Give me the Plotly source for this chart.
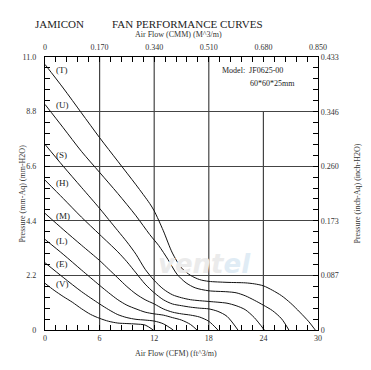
import plotly.graph_objects as go

# ---- data (CFM, mm-H2O) ----
curve_names = ["T", "U", "S", "H", "M", "L", "E", "V"]

T_x = [0, 2, 4, 6, 8, 10, 11.5, 12, 13, 14, 15, 16, 17, 18, 20, 22, 23, 24, 25, 26, 27, 28, 29, 29.7]
T_y = [10.7, 9.75, 8.75, 7.75, 6.8, 5.85, 5.1, 4.8, 4.0, 3.1, 2.5, 2.2, 2.03, 1.96, 1.92, 1.9, 1.86, 1.78, 1.6, 1.38, 1.08, 0.72, 0.33, 0]

U_x = [0, 2, 4, 6, 8, 10, 11.5, 12.5, 13.5, 14.5, 15.5, 16.5, 18, 20, 21, 22, 23, 24, 25, 26, 26.8]
U_y = [9.09, 8.15, 7.2, 6.35, 5.5, 4.6, 3.85, 3.4, 2.85, 2.25, 1.9, 1.7, 1.58, 1.54, 1.5, 1.38, 1.2, 1.0, 0.78, 0.45, 0]

S_x = [0, 2, 4, 6, 7, 8, 9, 10, 11, 12, 13, 14, 15, 16, 18, 19, 20, 21, 22, 23, 24.1]
S_y = [7.48, 6.6, 5.75, 4.9, 4.45, 4.0, 3.55, 3.05, 2.45, 2.0, 1.65, 1.42, 1.3, 1.22, 1.15, 1.12, 1.08, 0.98, 0.82, 0.5, 0]

H_x = [0, 2, 4, 6, 8, 9, 10, 11, 12, 13, 14, 15, 16, 17, 18, 19, 20, 21.2]
H_y = [6.04, 5.3, 4.55, 3.85, 3.15, 2.75, 2.3, 1.85, 1.5, 1.22, 1.05, 0.98, 0.92, 0.88, 0.85, 0.75, 0.55, 0]

M_x = [0, 2, 4, 6, 7, 8, 9, 10, 11, 12, 13, 14, 15, 16, 17, 18, 19]
M_y = [4.70, 4.05, 3.42, 2.8, 2.45, 2.1, 1.75, 1.45, 1.22, 1.05, 0.85, 0.72, 0.65, 0.6, 0.52, 0.35, 0]

L_x = [0, 2, 4, 6, 7, 8, 9, 10, 11, 12, 13, 14, 15, 16, 16.7]
L_y = [3.65, 3.05, 2.42, 1.8, 1.5, 1.22, 1.0, 0.85, 0.72, 0.65, 0.6, 0.5, 0.4, 0.22, 0]

E_x = [0, 2, 4, 6, 7, 8, 9, 10, 11, 12, 13, 14.1]
E_y = [2.71, 2.12, 1.55, 1.05, 0.82, 0.62, 0.5, 0.43, 0.4, 0.36, 0.25, 0]

V_x = [0, 1, 2, 3, 4, 5, 6, 7, 8, 9, 10, 11, 11.9]
V_y = [1.88, 1.6, 1.35, 1.12, 0.86, 0.63, 0.47, 0.35, 0.28, 0.26, 0.24, 0.2, 0]

label_y = [10.48, 9.07, 7.05, 5.92, 4.59, 3.59, 2.66, 1.85]

cfm_ticks = [0, 6, 12, 18, 24, 30]
cmm_ticks = [0, 0.17, 0.34, 0.51, 0.68, 0.85]
cmm_text = ["0", "0.170", "0.340", "0.510", "0.680", "0.850"]
mm_ticks = [0, 2.2, 4.4, 6.6, 8.8, 11.0]
mm_text = ["0", "2.2", "4.4", "6.6", "8.8", "11.0"]
inch_ticks = [0, 0.087, 0.173, 0.260, 0.346, 0.433]
inch_text = ["0", "0.087", "0.173", "0.260", "0.346", "0.433"]

FONT = "Liberation Serif, Times New Roman, serif"
TXT = "#333333"
series = [(T_x, T_y), (U_x, U_y), (S_x, S_y), (H_x, H_y), (M_x, M_y), (L_x, L_y), (E_x, E_y), (V_x, V_y)]

# page body has an 8px default margin: compensate so the plot lands where the reference has it
OFF = 8
W, H = 371 - OFF, 370 - OFF
ml, mr, mt, mb = 45 - OFF, 53, 57 - OFF, 40
px_w = W - ml - mr
px_h = H - mt - mb

fig = go.Figure()
for name, (xs, ys) in zip(curve_names, series):
    fig.add_trace(go.Scatter(x=xs, y=ys, mode="lines", name=name,
                             line=dict(color="#111111", width=1, shape="spline", smoothing=0.8),
                             showlegend=False, hoverinfo="skip"))

# dummy trace to activate secondary axes
fig.add_trace(go.Scatter(x=[cmm_ticks[0], cmm_ticks[-1]], y=[inch_ticks[0], inch_ticks[-1]],
                         xaxis="x2", yaxis="y2", mode="markers",
                         marker=dict(opacity=0), showlegend=False, hoverinfo="skip"))

shapes = []
for v in cfm_ticks[1:-2]:
    shapes.append(dict(type="line", xref="x", yref="y", x0=v, x1=v, y0=0, y1=11,
                       line=dict(color="#444444", width=1.2), layer="below"))
shapes.append(dict(type="line", xref="x", yref="y", x0=24, x1=24, y0=0, y1=8.8,
                   line=dict(color="#444444", width=1.2), layer="below"))


def paper_xy(xpx, ypx):
    # xpx, ypx in window pixels
    return (xpx - OFF - ml) / px_w, 1 - (ypx - OFF - mt) / px_h


def add_text(xpx, ypx, text, size=8, xanchor="center", angle=0, color=TXT):
    px, py = paper_xy(xpx, ypx)
    fig.add_annotation(x=px, y=py, xref="paper", yref="paper", text=text, showarrow=False,
                       xanchor=xanchor, yanchor="middle", textangle=angle,
                       font=dict(family=FONT, size=size, color=color))


for name, ly in zip(curve_names, label_y):
    fig.add_annotation(x=1.0, y=ly, xref="x", yref="y", text="(" + name + ")",
                       showarrow=False, xanchor="left", yanchor="middle",
                       font=dict(family=FONT, size=9, color="#222"))

add_text(33, 24, "JAMICON", size=11, xanchor="left", color="#222")
add_text(187, 24, "FAN PERFORMANCE CURVES", size=11, color="#222")
add_text(178, 34, "Air Flow (CMM) (M^3/m)")
add_text(176, 353, "Air Flow (CFM) (ft^3/m)")
add_text(22, 193.5, "Pressure (mm-Aq) (mm-H2O)", angle=-90)
add_text(357, 193.5, "Pressure (inch-Aq) (inch-H2O)", angle=-90)

fig.add_annotation(x=19.2, y=10.45, xref="x", yref="y", text="Model:&nbsp;&nbsp;JF0625-00",
                   showarrow=False, xanchor="left", yanchor="middle",
                   font=dict(family=FONT, size=8, color="#222"))
fig.add_annotation(x=22.3, y=9.95, xref="x", yref="y", text="60*60*25mm",
                   showarrow=False, xanchor="left", yanchor="middle",
                   font=dict(family=FONT, size=8, color="#222"))
fig.add_annotation(x=17.5, y=2.65, xref="x", yref="y",
                   text="<b><i><span style='color:#ebebeb'>vent</span><span style='color:#e0ecf5'>el</span></i></b>",
                   showarrow=False, xanchor="center", yanchor="middle",
                   font=dict(family="DejaVu Sans", size=26, color="#ebebeb"))

common = dict(ticks="inside", ticklen=5, tickcolor="black", showgrid=False, zeroline=False,
              showline=True, linecolor="black", linewidth=1.2, automargin=False, color=TXT,
              tickfont=dict(family=FONT, size=8, color=TXT))

fig.update_layout(
    template="none",
    width=W, height=H,
    margin=dict(l=ml, r=mr, t=mt, b=mb, pad=0),
    paper_bgcolor="white", plot_bgcolor="white",
    shapes=shapes,
    font=dict(family=FONT, size=8, color=TXT),
    xaxis=dict(range=[0, 30], tickvals=cfm_ticks, ticktext=[str(v) for v in cfm_ticks],
               minor=dict(dtick=1.2, ticks="inside", ticklen=5, tickcolor="black", showgrid=False),
               **common),
    xaxis2=dict(range=[0, 0.85], overlaying="x", side="top", tickvals=cmm_ticks, ticktext=cmm_text,
                ticklabelstandoff=3,
                minor=dict(dtick=0.034, ticks="inside", ticklen=5, tickcolor="black", showgrid=False),
                **common),
    yaxis=dict(range=[0, 11], tickvals=mm_ticks, ticktext=mm_text, ticklabelstandoff=6,
               minor=dict(dtick=0.44, ticks="inside", ticklen=5, tickcolor="black", showgrid=False),
               **common),
    yaxis2=dict(range=[0, 0.433], overlaying="y", side="right", tickvals=inch_ticks, ticktext=inch_text,
                minor=dict(dtick=0.01732, ticks="inside", ticklen=5, tickcolor="black", showgrid=False),
                **common),
)
fig.layout.yaxis.showgrid = True
fig.layout.yaxis.gridcolor = "#444444"
fig.layout.yaxis.gridwidth = 1.2
fig.layout.yaxis2.showgrid = False

fig.write_html("out.html")
